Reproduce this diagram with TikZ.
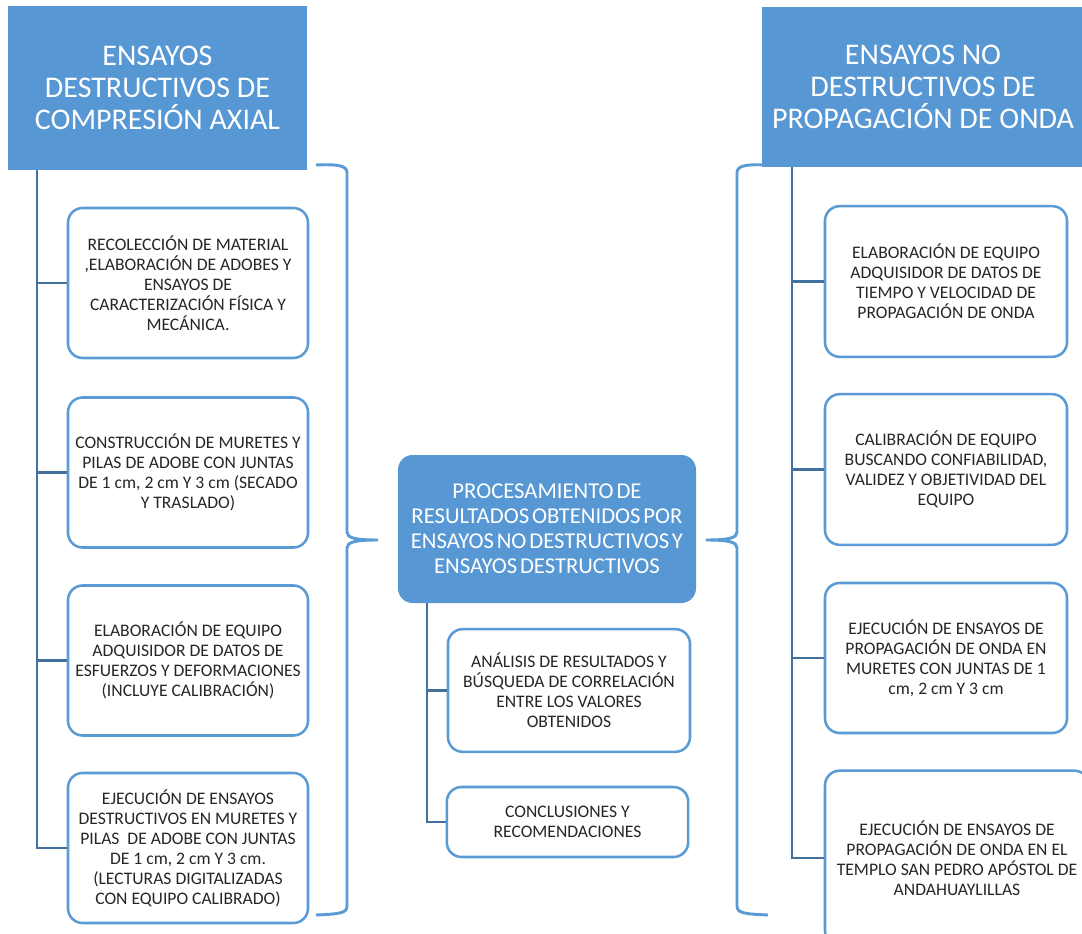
\documentclass[tikz,border=0pt]{standalone}
\usepackage{fontspec}
\setmainfont{Carlito}
\newfontfamily\tightfont{Carlito}[WordSpace=0.55]
\definecolor{headfill}{HTML}{5797D3}
\definecolor{bordc}{HTML}{5B9BD5}
\definecolor{connc}{HTML}{41719C}
\definecolor{txtc}{HTML}{262626}
\begin{document}
\begin{tikzpicture}[x=0.75pt,y=-0.75pt,
  header/.style={fill=headfill,draw=none,text=white,align=center,inner sep=0pt,
    font=\fontsize{22.5}{24}\selectfont},
  centre/.style={fill=headfill,draw=none,rounded corners=11pt,text=white,align=center,inner sep=0pt,
    font=\tightfont\fontsize{17}{18.75}\selectfont},
  stepbox/.style={draw=bordc,line width=1.9pt,rounded corners=11pt,fill=white,text=txtc,align=center,
    inner sep=0pt,font=\fontsize{13.2}{15}\selectfont},
  conn/.style={draw=connc,line width=1.9pt},
  brace/.style={draw=bordc,line width=2.2pt}]
\clip (0,0) rectangle (1082,934);
\fill[white] (0,0) rectangle (1082,934);
% headers
\node[header,minimum width=224pt,minimum height=123pt] (lh) at (157.5,88)
  {ENSAYOS\\DESTRUCTIVOS DE\\COMPRESIÓN AXIAL};
\node[header,minimum width=241.5pt,minimum height=120pt] (rh) at (923,87)
  {ENSAYOS NO\\DESTRUCTIVOS DE\\PROPAGACIÓN DE ONDA};
% left boxes
\node[stepbox,minimum width=180pt,minimum height=112.5pt] (l1) at (188,283)
  {RECOLECCIÓN DE MATERIAL\\,ELABORACIÓN DE ADOBES Y\\ENSAYOS DE\\CARACTERIZACIÓN FÍSICA Y\\MECÁNICA.};
\node[stepbox,minimum width=180pt,minimum height=112.5pt] (l2) at (188,472.5)
  {CONSTRUCCIÓN DE MURETES Y\\PILAS DE ADOBE CON JUNTAS\\DE 1 cm, 2 cm Y 3 cm (SECADO\\Y TRASLADO)};
\node[stepbox,minimum width=180pt,minimum height=112.5pt] (l3) at (188,660.5)
  {ELABORACIÓN DE EQUIPO\\ADQUISIDOR DE DATOS DE\\ESFUERZOS Y DEFORMACIONES\\(INCLUYE CALIBRACIÓN)};
\node[stepbox,minimum width=180pt,minimum height=112.5pt] (l4) at (188,848)
  {EJECUCIÓN DE ENSAYOS\\DESTRUCTIVOS EN MURETES Y\\PILAS\ \ DE ADOBE CON JUNTAS\\DE 1 cm, 2 cm Y 3 cm.\\(LECTURAS DIGITALIZADAS\\CON EQUIPO CALIBRADO)};
% right boxes
\node[stepbox,minimum width=181.5pt,minimum height=113pt] (r1) at (946,281.5)
  {ELABORACIÓN DE EQUIPO\\ADQUISIDOR DE DATOS DE\\TIEMPO Y VELOCIDAD DE\\PROPAGACIÓN DE ONDA};
\node[stepbox,minimum width=181.5pt,minimum height=113pt] (r2) at (946,469.5)
  {CALIBRACIÓN DE EQUIPO\\BUSCANDO CONFIABILIDAD,\\VALIDEZ Y OBJETIVIDAD DEL\\EQUIPO};
\node[stepbox,minimum width=181.5pt,minimum height=112.5pt] (r3) at (946,658)
  {EJECUCIÓN DE ENSAYOS DE\\PROPAGACIÓN DE ONDA EN\\MURETES CON JUNTAS DE 1\\cm, 2 cm Y 3 cm};
\node[stepbox,minimum width=198pt,minimum height=131pt] (r4) at (957,858)
  {EJECUCIÓN DE ENSAYOS DE\\PROPAGACIÓN DE ONDA EN EL\\TEMPLO SAN PEDRO APÓSTOL DE\\ANDAHUAYLILLAS};
% centre
\node[centre,minimum width=223.5pt,minimum height=111pt] (c) at (547,529)
  {PROCESAMIENTO DE\\RESULTADOS OBTENIDOS POR\\ENSAYOS NO DESTRUCTIVOS Y\\ENSAYOS DESTRUCTIVOS};
\node[stepbox,minimum width=181.5pt,minimum height=92pt] (ca) at (569,690.5)
  {ANÁLISIS DE RESULTADOS Y\\BÚSQUEDA DE CORRELACIÓN\\ENTRE LOS VALORES\\OBTENIDOS};
\node[stepbox,minimum width=181pt,minimum height=52.5pt] (cb) at (567.5,822)
  {CONCLUSIONES Y\\RECOMENDACIONES};
% spines
\coordinate (ls) at (37,170);
\coordinate (rs) at (792,167);
\coordinate (cs) at (427,603);
\draw[conn] (ls) |- (l4.west);
\foreach \b in {l1,l2,l3} \draw[conn] (ls |- \b.west) -- (\b.west);
\draw[conn] (rs) |- (r4.west);
\foreach \b in {r1,r2,r3} \draw[conn] (rs |- \b.west) -- (\b.west);
\draw[conn] (cs) |- (cb.west);
\draw[conn] (cs |- ca.west) -- (ca.west);
% braces
\coordinate (lbt) at (316,165);
\coordinate (lbm) at (378,540);
\coordinate (lbb) at (316,915);
\draw[brace] (lbt) .. controls (340,164) and (347,166) .. (347,173) -- (347,532)
  .. controls (347,538) and (355,540) .. (lbm)
  .. controls (355,540) and (347,542) .. (347,548) -- (347,906)
  .. controls (347,913) and (340,914) .. (lbb);
\coordinate (rbt) at (768,165);
\coordinate (rbm) at (706,540);
\coordinate (rbb) at (768,915);
\draw[brace] (rbt) .. controls (744,164) and (737,166) .. (737,173) -- (737,532)
  .. controls (737,538) and (729,540) .. (rbm)
  .. controls (729,540) and (737,542) .. (737,548) -- (737,906)
  .. controls (737,913) and (744,914) .. (rbb);
\end{tikzpicture}
\end{document}
